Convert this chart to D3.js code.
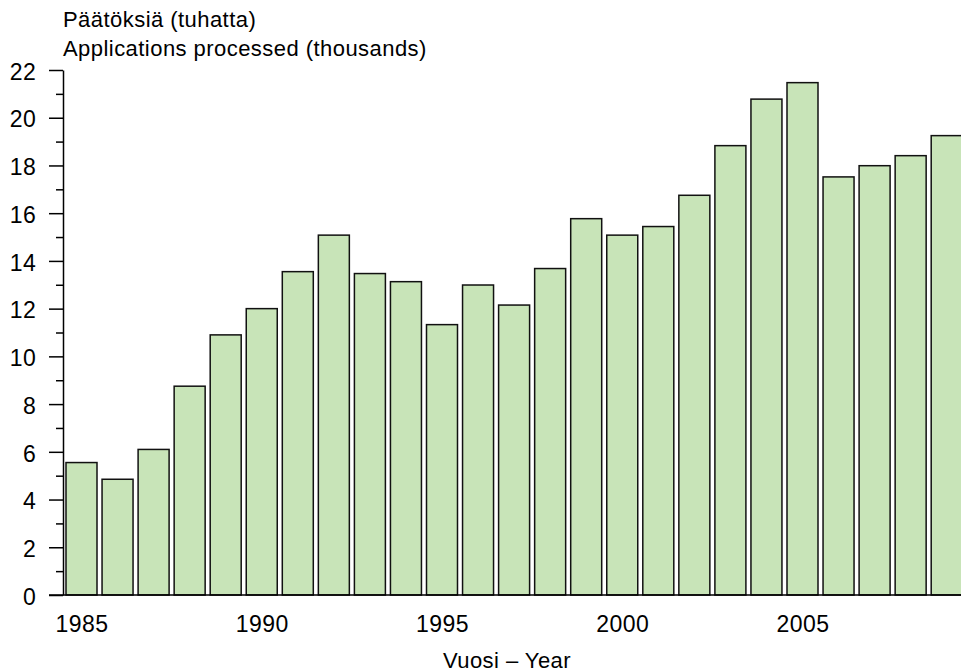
<!DOCTYPE html>
<html>
<head>
<meta charset="utf-8">
<script src="https://cdn.jsdelivr.net/npm/d3@7"></script>
<style>
  html, body { margin: 0; padding: 0; background: #fff; }
  svg { display: block; }
  text { font-family: "Liberation Sans", Arial, sans-serif; fill: #000; }
</style>
</head>
<body>
<svg id="chart" width="961" height="672"></svg>
<script>
const years = [1985,1986,1987,1988,1989,1990,1991,1992,1993,1994,1995,1996,1997,1998,1999,2000,2001,2002,2003,2004,2005,2006,2007,2008,2009];
const values = [5.55,4.85,6.1,8.75,10.9,12.0,13.55,15.08,13.47,13.13,11.33,12.99,12.15,13.68,15.77,15.08,15.44,16.75,18.83,20.78,21.47,17.52,17.99,18.41,19.25];
const yMajorTicks = [0,2,4,6,8,10,12,14,16,18,20,22];
const yMinorTicks = [1,3,5,7,9,11,13,15,17,19,21];
const xTickYears = [1985,1990,1995,2000,2005];
const titleLines = ["Päätöksiä (tuhatta)", "Applications processed (thousands)"];
const xLabel = "Vuosi – Year";

const W = 961, H = 672;
const axisX = 63, baseY = 595, topY = 70;
const svg = d3.select("#chart");

const x = d3.scaleLinear().domain([1985, 2009]).range([81.5, 81.5 + 24 * 36.05]);
const y = d3.scaleLinear().domain([0, 22]).range([baseY, topY]);
const barW = 31;

// bars
svg.append("g").selectAll("rect")
  .data(years.map((yr, i) => ({ yr, v: values[i] })))
  .join("rect")
  .attr("x", d => x(d.yr) - barW / 2)
  .attr("y", d => y(d.v))
  .attr("width", barW)
  .attr("height", d => y(0) - y(d.v))
  .attr("fill", "#c8e4b8")
  .attr("stroke", "#111")
  .attr("stroke-width", 1.5);

// y axis minor ticks
svg.append("g")
  .attr("transform", `translate(${axisX},0)`)
  .call(d3.axisLeft(y).tickValues(yMinorTicks).tickSize(7).tickFormat(""))
  .call(g => g.select(".domain").remove())
  .call(g => g.selectAll("line").attr("stroke", "#000").attr("stroke-width", 1.5));

// y axis major
svg.append("g")
  .attr("transform", `translate(${axisX},0)`)
  .call(d3.axisLeft(y).tickValues(yMajorTicks).tickSize(14).tickSizeOuter(0).tickPadding(13).tickFormat(d3.format("d")))
  .call(g => g.select(".domain").attr("stroke", "#000").attr("stroke-width", 1.5))
  .call(g => g.selectAll("line").attr("stroke", "#000").attr("stroke-width", 1.5))
  .call(g => g.selectAll("text")
    .style("font-size", "23px")
    .style("letter-spacing", "0.3px")
    .attr("font-family", null)
    .attr("dy", "0.4em"));

// x axis
svg.append("g")
  .attr("transform", `translate(0,${baseY})`)
  .call(d3.axisBottom(x).tickValues(xTickYears).tickSize(0).tickSizeOuter(0).tickFormat(d3.format("d")))
  .call(g => g.select(".domain").remove())
  .call(g => g.selectAll("text")
    .style("font-size", "23px")
    .style("letter-spacing", "0.5px")
    .attr("font-family", null)
    .attr("y", 37)
    .attr("dy", 0));

svg.append("line")
  .attr("x1", axisX - 14).attr("x2", W)
  .attr("y1", y(0)).attr("y2", y(0))
  .attr("stroke", "#000").attr("stroke-width", 1.5);

// title
svg.append("g").selectAll("text")
  .data(titleLines)
  .join("text")
  .attr("x", axisX)
  .attr("y", (d, i) => 27 + i * 29)
  .style("font-size", "22px")
  .style("letter-spacing", "0.45px")
  .text(d => d);

// x label
svg.append("text")
  .attr("x", 507)
  .attr("y", 668)
  .attr("text-anchor", "middle")
  .style("font-size", "22px")
  .style("letter-spacing", "0.45px")
  .text(xLabel);
</script>
</body>
</html>
